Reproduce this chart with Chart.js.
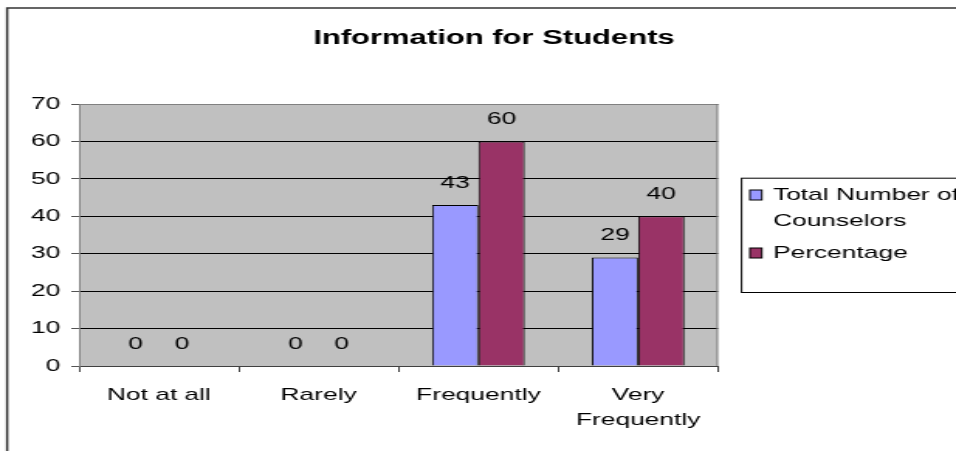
<!DOCTYPE html>
<html><head><meta charset="utf-8">
<script src="https://cdn.jsdelivr.net/npm/chart.js@4"></script>
<style>
html,body{margin:0;padding:0;background:#fff;overflow:hidden}
#wrap{width:617px;height:451px;transform:scaleX(1.5494);transform-origin:0 0}
canvas{display:block}
</style></head><body>
<div id="wrap"><canvas id="c" width="617" height="451"></canvas></div>
<script>
const chartTitle = 'Information for Students';
const categories = ['Not at all', 'Rarely', 'Frequently', ['Very', 'Frequently']];
const seriesNames = [['Total Number of', 'Counselors'], ['Percentage']];
const counselors = [0, 0, 43, 29];
const percentage = [0, 0, 60, 40];
const yMin = 0, yMax = 70, yStep = 10;

const FAMILY = "'Liberation Sans', Arial, sans-serif";
const colors = ['#9999FF', '#993366'];

const frame = {
  id: 'frame',
  beforeDraw(chart) {
    const ctx = chart.ctx, a = chart.chartArea;
    ctx.save();
    ctx.fillStyle = '#fff';
    ctx.fillRect(0, 0, chart.width, chart.height);
    ctx.strokeStyle = '#333';
    ctx.lineWidth = 1.5;
    ctx.strokeRect(4.6, 8, chart.width + 20, chart.height + 20);
    ctx.fillStyle = '#C0C0C0';
    ctx.fillRect(a.left, a.top, a.right - a.left, a.bottom - a.top);
    ctx.restore();
  },
  beforeDatasetsDraw(chart) {
    const ctx = chart.ctx, a = chart.chartArea;
    ctx.save();
    ctx.strokeStyle = '#808080';
    ctx.lineWidth = 1;
    ctx.beginPath();
    ctx.moveTo(a.left, a.top + 0.5);
    ctx.lineTo(a.right - 0.5, a.top + 0.5);
    ctx.lineTo(a.right - 0.5, a.bottom);
    ctx.stroke();
    ctx.restore();
  },
  afterDatasetsDraw(chart) {
    const ctx = chart.ctx;
    ctx.save();
    ctx.font = '17px ' + FAMILY;
    ctx.fillStyle = '#000';
    ctx.textAlign = 'center';
    ctx.textBaseline = 'middle';
    chart.data.datasets.forEach((ds, i) => {
      chart.getDatasetMeta(i).data.forEach((el, j) => {
        ctx.fillText(String(ds.data[j]), el.x, el.y - 22);
      });
    });
    ctx.restore();
  },
  afterDraw(chart) {
    const ctx = chart.ctx;
    ctx.save();
    // title
    ctx.font = 'bold 20px ' + FAMILY;
    ctx.fillStyle = '#000';
    ctx.textAlign = 'center';
    ctx.textBaseline = 'middle';
    ctx.fillText(chartTitle, 318.8, 38);
    // legend
    const lx = 478.1, ly = 177.7, lh = 114.3;
    ctx.strokeStyle = '#000';
    ctx.lineWidth = 1;
    ctx.strokeRect(lx + 0.5, ly + 0.5, chart.width, lh);
    ctx.font = '17px ' + FAMILY;
    ctx.textAlign = 'left';
    ctx.textBaseline = 'alphabetic';
    const baselines = [[200, 225.5], [258]];
    chart.data.datasets.forEach((ds, i) => {
      const b = baselines[i];
      ctx.fillStyle = ds.backgroundColor;
      ctx.fillRect(484, b[0] - 10, 7.7, 10);
      ctx.strokeStyle = '#000';
      ctx.strokeRect(484, b[0] - 10, 7.7, 10);
      ctx.fillStyle = '#000';
      seriesNames[i].forEach((t, k) => ctx.fillText(t, 498.9, b[k]));
    });
    ctx.restore();
  }
};

new Chart(document.getElementById('c'), {
  type: 'bar',
  data: {
    labels: categories,
    datasets: [
      { label: seriesNames[0].join(' '), data: counselors, backgroundColor: colors[0], borderColor: '#000', borderWidth: 1, categoryPercentage: 0.58, barPercentage: 1.0 },
      { label: seriesNames[1].join(' '), data: percentage, backgroundColor: colors[1], borderColor: '#000', borderWidth: 1, categoryPercentage: 0.58, barPercentage: 1.0 }
    ]
  },
  options: {
    responsive: false,
    devicePixelRatio: 1,
    animation: false,
    layout: { padding: { left: 0, right: 153.6, top: 104, bottom: 0 } },
    plugins: { legend: { display: false }, title: { display: false }, tooltip: { enabled: false } },
    scales: {
      x: {
        grid: { display: true, drawOnChartArea: false, drawTicks: true, tickLength: 6, color: '#404040', offset: true },
        border: { display: true, color: '#404040' },
        ticks: { font: { size: 17, family: FAMILY, lineHeight: 1.45 }, color: '#000', padding: 11, maxRotation: 0, autoSkip: false },
        afterFit(s) { s.height = 85; }
      },
      y: {
        min: yMin, max: yMax,
        ticks: { stepSize: yStep, font: { size: 17, family: FAMILY }, color: '#000', padding: 7 },
        grid: { color: '#000', tickColor: '#555', tickLength: 5 },
        border: { display: true, color: '#808080' },
        afterFit(s) { s.width = 51; }
      }
    }
  },
  plugins: [frame]
});
</script>
</body></html>
